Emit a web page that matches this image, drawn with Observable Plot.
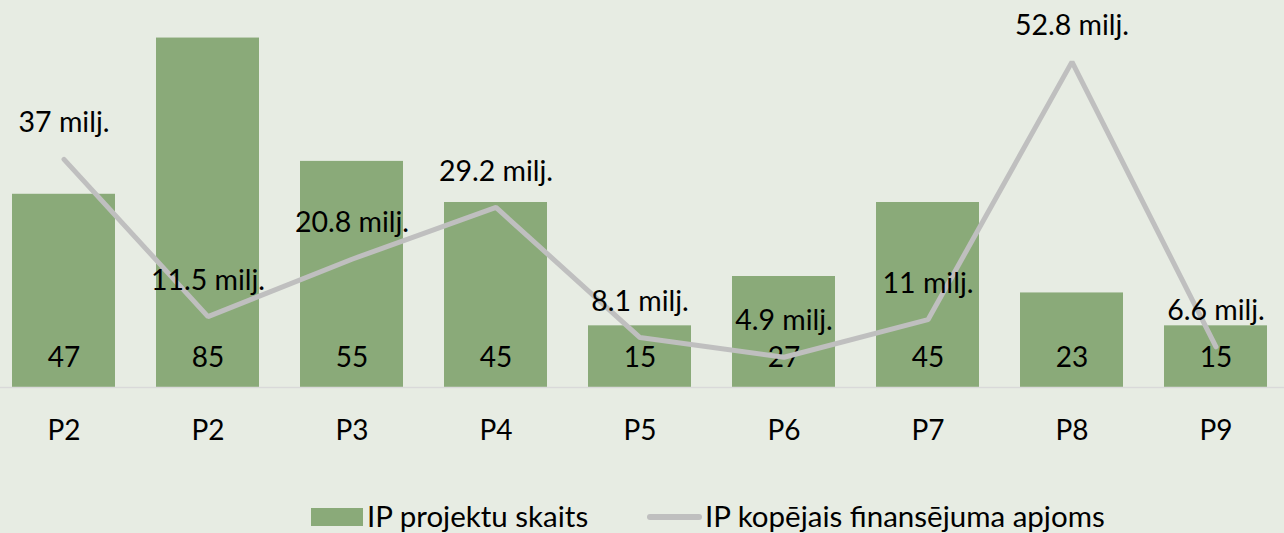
<!DOCTYPE html>
<html>
<head>
<meta charset="utf-8">
<script src="https://cdn.jsdelivr.net/npm/d3@7"></script>
<script src="https://cdn.jsdelivr.net/npm/@observablehq/plot@0.6"></script>
<style>
  html, body { margin: 0; padding: 0; background: #e7ece3; }
  #chart { width: 1284px; height: 533px; position: relative; overflow: hidden; font-family: Lato, sans-serif; }
  #legend { position: absolute; left: 0; top: 460px; width: 1284px; height: 73px; font-size: 29.5px; color: #000; }
  .sw { position: absolute; }
  .lt { position: absolute; line-height: 36px; white-space: nowrap; }
</style>
</head>
<body>
<div id="chart"></div>
<script>
// Data
const categories = ["P2", "P2", "P3", "P4", "P5", "P6", "P7", "P8", "P9"];
const projectCounts = [47, 85, 55, 45, 15, 27, 45, 23, 15];
const fundingMillions = [37, 11.5, 20.8, 29.2, 8.1, 4.9, 11, 52.8, 6.6];
const seriesNames = ["IP projektu skaits", "IP kopējais finansējuma apjoms"];

// Axis maxima (primary for bars, secondary for the line)
const primaryMax = 90;
const secondaryMax = 60;
const ratio = primaryMax / secondaryMax;

const rows = categories.map((c, i) => ({
  i, cat: c, count: projectCounts[i], fund: fundingMillions[i], fundScaled: fundingMillions[i] * ratio
}));

const green = "#8aaa79";
const gray = "#bfbfbf";

const plot = Plot.plot({
  width: 1284,
  height: 460,
  marginTop: 17,
  marginBottom: 73,
  marginLeft: 0,
  marginRight: 0,
  style: { background: "#e7ece3", fontFamily: "Lato, sans-serif", fontSize: "28px", color: "#000" },
  x: {
    type: "band",
    domain: d3.range(categories.length),
    range: [-8.5, 1287.5],
    paddingInner: 0.285,
    paddingOuter: 0.1425,
    label: null
  },
  y: { domain: [0, primaryMax], axis: null },
  marks: [
    Plot.barY(rows, { x: "i", y: "count", fill: green }),
    Plot.ruleY([0], { stroke: "#d9d9d9", strokeWidth: 1.5 }),
    Plot.axisX({ tickSize: 0, tickPadding: 33, tickFormat: (i) => categories[i], fontSize: 28, fill: "#000", label: null }),
    Plot.text(rows, { x: "i", y: 0, text: (d) => String(d.count), dy: -29, fontSize: 28, fill: "#000" }),
    Plot.line(rows, { x: "i", y: "fundScaled", stroke: gray, strokeWidth: 5, strokeLinejoin: "miter", strokeLinecap: "round" }),
    Plot.text(rows, { x: "i", y: "fundScaled", text: (d) => `${d.fund} milj.`, dy: -36, fontSize: 28.5, fill: "#000" })
  ]
});

const chart = document.getElementById("chart");
chart.appendChild(plot);

// Legend
const legend = document.createElement("div");
legend.id = "legend";
chart.appendChild(legend);
legend.innerHTML = `
  <div class="sw" style="left:311px; top:48px; width:52px; height:18px; background:${green}"></div>
  <div class="lt" style="left:367px; top:38px;">${seriesNames[0]}</div>
  <div class="sw" style="left:647px; top:54px; width:55px; height:6px; border-radius:3px; background:${gray}"></div>
  <div class="lt" style="left:705px; top:38px;">${seriesNames[1]}</div>
`;
</script>
</body>
</html>
